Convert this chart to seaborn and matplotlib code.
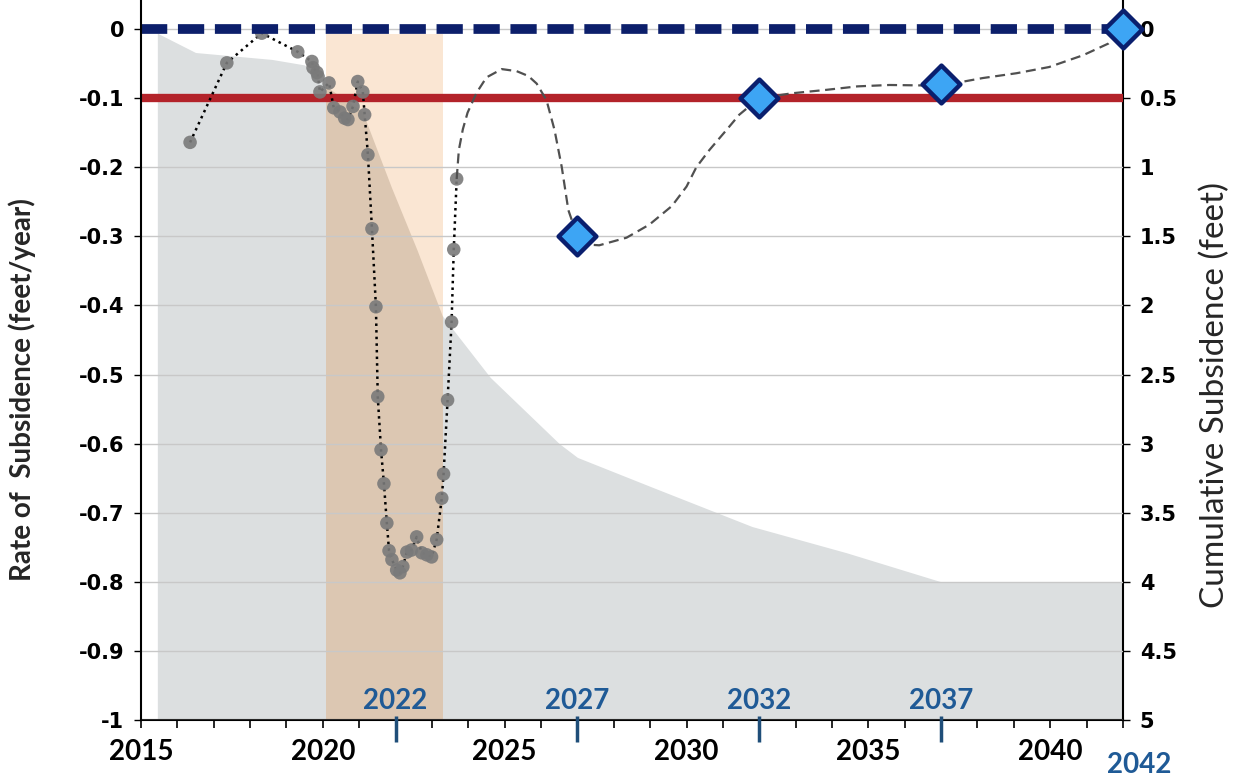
import numpy as np
import matplotlib
matplotlib.use("Agg")
import matplotlib.pyplot as plt
import seaborn as sns

# measured rate of subsidence (feet/year), dotted series
obs_years = [2016.35, 2017.36, 2018.32, 2019.31, 2019.70, 2019.73, 2019.84, 2019.87,
             2019.92, 2020.17, 2020.30, 2020.47, 2020.60, 2020.69, 2020.83, 2020.96,
             2021.10, 2021.15, 2021.24, 2021.35, 2021.46, 2021.51, 2021.60, 2021.68,
             2021.76, 2021.82, 2021.90, 2022.03, 2022.12, 2022.20, 2022.31, 2022.44,
             2022.58, 2022.72, 2022.86, 2022.99, 2023.13, 2023.27, 2023.32, 2023.43,
             2023.54, 2023.60, 2023.68]
obs_rate = [-0.164, -0.049, -0.006, -0.033, -0.047, -0.056, -0.063, -0.069,
            -0.091, -0.078, -0.114, -0.120, -0.129, -0.131, -0.112, -0.076,
            -0.091, -0.124, -0.182, -0.289, -0.402, -0.532, -0.609, -0.658,
            -0.715, -0.755, -0.768, -0.783, -0.787, -0.778, -0.757, -0.754,
            -0.735, -0.758, -0.761, -0.764, -0.739, -0.679, -0.644, -0.537,
            -0.424, -0.319, -0.217]

# projected rate path (grey dashed curve)
proj_years = [2023.68, 2023.74, 2023.85, 2023.98, 2024.23, 2024.50, 2024.92, 2025.33,
              2025.65, 2025.88, 2026.15, 2026.37, 2026.57, 2026.75, 2027.00, 2027.30,
              2027.60, 2028.35, 2028.98, 2029.60, 2030.00, 2030.27, 2030.63, 2031.10,
              2031.45, 2032.00, 2032.90, 2033.85, 2034.70, 2035.58, 2037.00, 2038.14,
              2039.07, 2039.97, 2040.90, 2041.60, 2042.00]
proj_rate = [-0.217, -0.175, -0.145, -0.121, -0.092, -0.070, -0.058, -0.061,
             -0.068, -0.079, -0.103, -0.146, -0.200, -0.262, -0.300, -0.312,
             -0.313, -0.302, -0.283, -0.256, -0.228, -0.200, -0.175, -0.146,
             -0.124, -0.100, -0.093, -0.088, -0.083, -0.081, -0.082, -0.071,
             -0.064, -0.055, -0.038, -0.021, 0.000]

# 5-year milestone targets
target_years = [2027, 2032, 2037, 2042]
target_rate = [-0.30, -0.10, -0.08, 0.00]

# cumulative subsidence (feet), right axis
cum_years = [2015.45, 2016.5, 2018.6, 2019.5, 2020.0, 2021.1, 2021.9, 2022.6, 2023.3,
             2024.6, 2026.5, 2027.0, 2029.1, 2031.8, 2034.4, 2037.0, 2042.0]
cum_feet = [0.03, 0.17, 0.22, 0.26, 0.40, 0.60, 1.15, 1.60, 2.08,
            2.52, 3.00, 3.10, 3.32, 3.60, 3.79, 4.00, 4.00]

band_years = [2020.1, 2023.3]
threshold_rate = -0.1
baseline_rate = 0.0

milestone_years = [2022, 2027, 2032, 2037]
milestone_labels = ["2022", "2027", "2032", "2037"]
year_ticks = [2015, 2020, 2025, 2030, 2035, 2040]
rate_ticks = [0, -0.1, -0.2, -0.3, -0.4, -0.5, -0.6, -0.7, -0.8, -0.9, -1]
cum_ticks = [0, 0.5, 1, 1.5, 2, 2.5, 3, 3.5, 4, 4.5, 5]

BLUE_TXT = "#1f5a96"
TICK_FONT = dict(family="DejaVu Sans", weight="bold", size=15, color="black")
YEAR_FONT = dict(family="Lato", weight="bold", size=20)

sns.set_theme(style="white")
plt.rcParams["font.family"] = ["Lato", "DejaVu Sans"]

fig = plt.figure(figsize=(12.41, 7.82), dpi=100)
# base axes: cumulative (right) and the year axis
base = fig.add_axes([0.1136, 0.0793, 0.7913, 0.9207])
ax = base.twinx()          # rate axis, drawn on top
ax.yaxis.tick_left()
ax.yaxis.set_label_position("left")
base.yaxis.tick_right()
ax.set_zorder(base.get_zorder() + 1)
ax.patch.set_visible(False)

# cumulative area and highlighted period
grey = base.fill_between(cum_years, cum_feet, 5, color="#dcdfe0", lw=0, zorder=1)
base.fill_between(band_years, 0.035, 5.0, color="#fae6d3", lw=0, zorder=2)
overlap = base.fill_between(band_years, 0.035, 5.0, color="#dcc7b2", lw=0, zorder=3)
overlap.set_clip_path(grey.get_paths()[0], base.transData)

base.set_xlim(2015, 2042)
base.set_ylim(5, -0.21)
base.set_yticks(cum_ticks, labels=[f"{v:g}" for v in cum_ticks], **TICK_FONT)
base.set_xticks(year_ticks, labels=[str(y) for y in year_ticks], color="black", **YEAR_FONT)
base.set_xticks(range(2015, 2043), minor=True)
base.set_ylabel("")

# rate series
ax.axhline(threshold_rate, color="#b3232a", lw=6, zorder=2)
sns.lineplot(x=obs_years, y=obs_rate, ax=ax, color="black", lw=1.8,
             linestyle=":", sort=False, zorder=3)
sns.scatterplot(x=obs_years, y=obs_rate, ax=ax, color="#7a7a7a", alpha=0.9,
                s=95, edgecolor="none", zorder=4)
ax.axhline(baseline_rate, color="#0c1f6b", lw=7, linestyle=(0, (2.7, 1.1)), zorder=5)
sns.lineplot(x=proj_years, y=proj_rate, ax=ax, color="#505050", lw=1.6,
             linestyle=(0, (4.5, 2.5)), sort=False, zorder=5)
sns.scatterplot(x=target_years, y=target_rate, ax=ax, marker="D", s=370,
                color="#3da5f4", edgecolor="#0a1f6e", linewidth=3.2,
                zorder=7, clip_on=False)

ax.set_xlim(2015, 2042)
ax.set_ylim(-1, 0.042)
ax.set_yticks(rate_ticks, labels=[f"{v:g}" for v in rate_ticks], **TICK_FONT)
ax.grid(axis="y", color="#c8c8c8", lw=1)
ax.set_axisbelow(True)
ax.set_ylabel("")
ax.set_xlabel("")
ax.xaxis.set_visible(False)

for a in (ax, base):
    for side in a.spines:
        a.spines[side].set_visible(False)
ax.spines["left"].set_visible(True)
base.spines["bottom"].set_visible(True)
base.spines["right"].set_visible(True)
for s in (ax.spines["left"], base.spines["bottom"], base.spines["right"]):
    s.set_color("black")
    s.set_linewidth(1.5)
    s.set_zorder(8)

ax.tick_params(axis="y", which="major", direction="out", length=5, width=1,
               color="black", pad=7, left=True)
base.tick_params(axis="x", which="both", direction="out", length=6, width=1.2,
                 color="black", pad=8, bottom=True, top=False)
base.tick_params(axis="y", direction="out", length=5, width=1, color="black",
                 pad=7, right=True, left=False)

# milestone ticks and labels
ax.vlines(milestone_years, -0.031, 0.006, transform=ax.get_xaxis_transform(),
          color="#1f4e79", lw=2.5, clip_on=False, zorder=9)
for yr, lab in zip(milestone_years, milestone_labels):
    ax.annotate(lab, xy=(yr, 0.027), xycoords=("data", "axes fraction"),
                ha="center", va="center", color=BLUE_TXT, **YEAR_FONT)
ax.annotate("2042", xy=(2042, -0.062), xycoords=("data", "axes fraction"),
            xytext=(12, 0), textcoords="offset points", ha="center", va="center",
            color=BLUE_TXT, annotation_clip=False, **YEAR_FONT)

fig.text(22 / 1241, 1 - 390 / 782, "Rate of  Subsidence (feet/year)", rotation=90,
         ha="center", va="center", family="Lato", weight="bold", size=20)
fig.text(1215 / 1241, 1 - 395 / 782, "Cumulative Subsidence (feet)", rotation=90,
         ha="center", va="center", family="Lato", size=24)

fig.savefig("out.png", dpi=100)
plt.close(fig)
